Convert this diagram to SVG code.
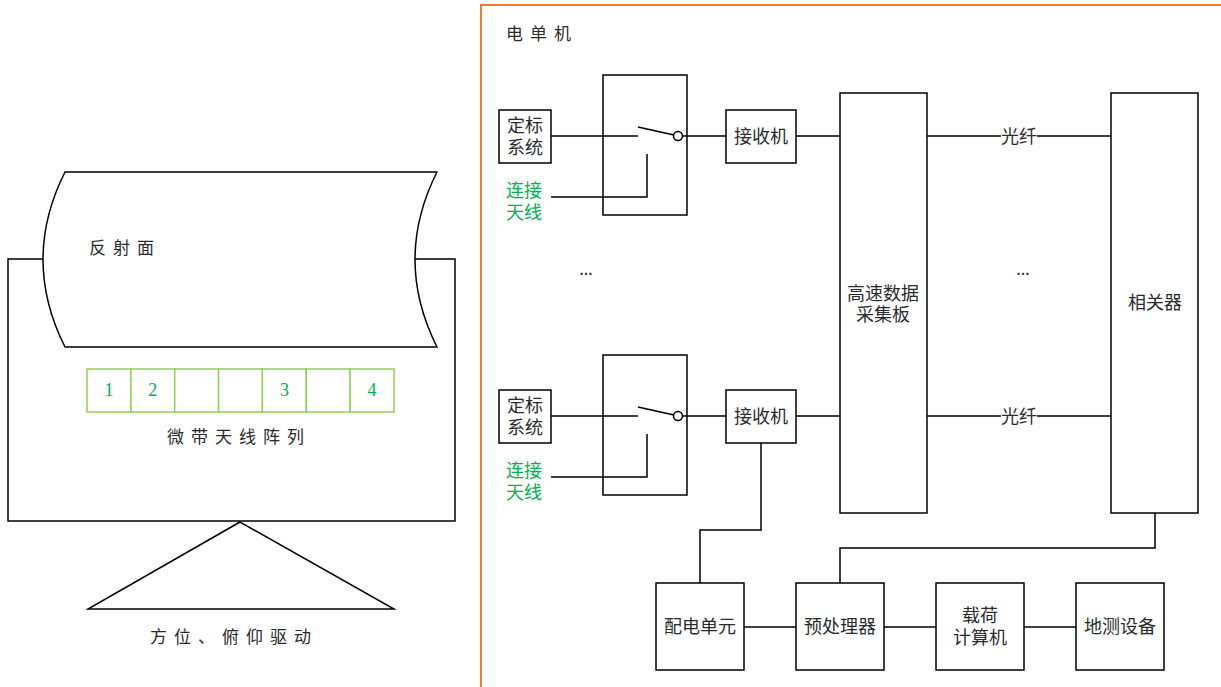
<svg xmlns="http://www.w3.org/2000/svg" width="1221" height="687" viewBox="0 0 1221 687">
  <style>
    .ln { fill: none; stroke: #000; stroke-width: 1.5; }
    .box { fill: #fff; stroke: #000; stroke-width: 1.5; }
    .t { font-family: "Liberation Sans", "Noto Sans CJK SC", sans-serif; font-size: 18px; fill: #2b2b2b; text-anchor: middle; dominant-baseline: central; }
    .sp { font-family: "Liberation Sans", "Noto Sans CJK SC", sans-serif; font-size: 17px; fill: #2b2b2b; letter-spacing: 7px; dominant-baseline: central; }
    .g { fill: #00b050; }
    .cell { fill: #fff; stroke: #92d050; stroke-width: 1.5; }
    .num { font-family: "Liberation Serif", serif; font-size: 18px; fill: #00b050; text-anchor: middle; dominant-baseline: central; }
    .dots { font-family: "Liberation Sans", sans-serif; font-size: 14px; font-weight: bold; fill: #333; text-anchor: middle; }
  </style>

  <!-- Antenna assembly -->
  <g id="antenna-base">
    <rect class="box" x="8" y="259" width="447" height="262"/>
  </g>
  <g id="reflector">
    <path class="box" d="M65,172 L437,172 Q393,259.5 437,347 L65,347 Q21,259.5 65,172 Z"/>
    <text class="sp" x="89" y="248">反射面</text>
  </g>
  <g id="microstrip-array">
    <rect class="cell" x="87" y="369" width="43.9" height="43"/>
    <rect class="cell" x="130.9" y="369" width="43.9" height="43"/>
    <rect class="cell" x="174.7" y="369" width="43.9" height="43"/>
    <rect class="cell" x="218.6" y="369" width="43.9" height="43"/>
    <rect class="cell" x="262.4" y="369" width="43.9" height="43"/>
    <rect class="cell" x="306.3" y="369" width="43.9" height="43"/>
    <rect class="cell" x="350.1" y="369" width="43.9" height="43"/>
    <text class="num" x="109" y="390">1</text>
    <text class="num" x="152.8" y="390">2</text>
    <text class="num" x="284.4" y="390">3</text>
    <text class="num" x="372" y="390">4</text>
    <text class="sp" x="167" y="437">微带天线阵列</text>
  </g>
  <g id="drive">
    <path class="ln" d="M240,522 L88,609 L394,609 Z"/>
    <text class="sp" x="150" y="637">方位、俯仰驱动</text>
  </g>

  <!-- Electronics unit frame -->
  <g id="electronics-unit">
    <rect x="481" y="5" width="760" height="700" fill="none" stroke="#ed7d31" stroke-width="2"/>
    <text class="sp" x="506" y="34">电单机</text>
  </g>

  <!-- Connectors -->
  <g id="connectors">
    <!-- channel 1 -->
    <path class="ln" d="M551,136 H638"/>
    <path class="ln" d="M638,127 L674,135"/>
    <circle cx="678" cy="136" r="4.5" fill="#fff" stroke="#000" stroke-width="1.5"/>
    <path class="ln" d="M682.5,136 H726"/>
    <path class="ln" d="M551,197 H647 V154"/>
    <path class="ln" d="M796,136 H840"/>
    <path class="ln" d="M927,136 H1001"/>
    <path class="ln" d="M1037,136 H1111"/>
    <!-- channel N -->
    <path class="ln" d="M551,416 H638"/>
    <path class="ln" d="M638,407 L674,415"/>
    <circle cx="678" cy="416" r="4.5" fill="#fff" stroke="#000" stroke-width="1.5"/>
    <path class="ln" d="M682.5,416 H726"/>
    <path class="ln" d="M551,477 H647 V434"/>
    <path class="ln" d="M796,416 H840"/>
    <path class="ln" d="M927,416 H1001"/>
    <path class="ln" d="M1037,416 H1111"/>
    <!-- power and data paths -->
    <path class="ln" d="M761,443 V530 H700 V583"/>
    <path class="ln" d="M1155,513 V548 H840 V583"/>
    <path class="ln" d="M744,627 H796"/>
    <path class="ln" d="M884,627 H936"/>
    <path class="ln" d="M1024,627 H1076"/>
  </g>

  <g id="fiber-labels">
    <text class="t" x="1019" y="137">光纤</text>
    <text class="t" x="1019" y="417">光纤</text>
  </g>

  <g id="cal-1">
    <rect class="box" x="499" y="110" width="52" height="53"/>
    <text class="t" x="525" y="126"><tspan x="525">定标</tspan><tspan x="525" dy="22">系统</tspan></text>
  </g>
  <g id="switch-1">
    <rect x="603" y="75" width="84" height="140" fill="none" stroke="#000" stroke-width="1.5"/>
  </g>
  <g id="ant-1">
    <text class="t g" x="524" y="191"><tspan x="524">连接</tspan><tspan x="524" dy="22">天线</tspan></text>
  </g>
  <g id="rx-1">
    <rect class="box" x="726" y="110" width="70" height="53"/>
    <text class="t" x="761" y="137">接收机</text>
  </g>

  <g id="cal-n">
    <rect class="box" x="499" y="390" width="52" height="53"/>
    <text class="t" x="525" y="406"><tspan x="525">定标</tspan><tspan x="525" dy="22">系统</tspan></text>
  </g>
  <g id="switch-n">
    <rect x="603" y="355" width="84" height="140" fill="none" stroke="#000" stroke-width="1.5"/>
  </g>
  <g id="ant-n">
    <text class="t g" x="524" y="471"><tspan x="524">连接</tspan><tspan x="524" dy="22">天线</tspan></text>
  </g>
  <g id="rx-n">
    <rect class="box" x="726" y="390" width="70" height="53"/>
    <text class="t" x="761" y="417">接收机</text>
  </g>

  <g id="ellipsis">
    <text class="dots" x="586" y="275">…</text>
    <text class="dots" x="1023" y="275">…</text>
  </g>

  <g id="daq-board">
    <rect class="box" x="840" y="93" width="87" height="420"/>
    <text class="t" x="883" y="294"><tspan x="883">高速数据</tspan><tspan x="883" dy="21">采集板</tspan></text>
  </g>
  <g id="correlator">
    <rect class="box" x="1111" y="93" width="87" height="420"/>
    <text class="t" x="1155" y="303">相关器</text>
  </g>

  <g id="power-unit">
    <rect class="box" x="656" y="583" width="88" height="87"/>
    <text class="t" x="700" y="627">配电单元</text>
  </g>
  <g id="preprocessor">
    <rect class="box" x="796" y="583" width="88" height="87"/>
    <text class="t" x="840" y="627">预处理器</text>
  </g>
  <g id="payload-computer">
    <rect class="box" x="936" y="583" width="88" height="87"/>
    <text class="t" x="980" y="616"><tspan x="980">载荷</tspan><tspan x="980" dy="22">计算机</tspan></text>
  </g>
  <g id="ground-equipment">
    <rect class="box" x="1076" y="583" width="88" height="87"/>
    <text class="t" x="1120" y="627">地测设备</text>
  </g>
</svg>
